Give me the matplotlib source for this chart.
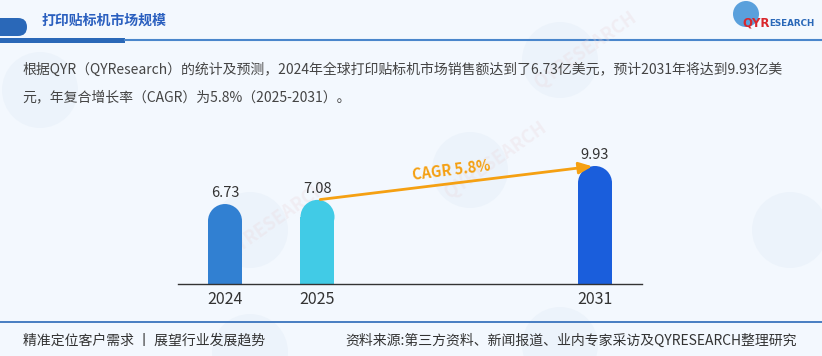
import matplotlib.pyplot as plt
from matplotlib.patches import Ellipse, Circle, FancyBboxPatch, Rectangle

plt.rcParams['font.family'] = ['Noto Sans CJK SC', 'DejaVu Sans']

# data
years = ['2024', '2025', '2031']
values = [6.73, 7.08, 9.93]
positions = [0, 1, 4]
colors = ['#3180d2', '#41cbe6', '#1a5edc']
cagr_label = 'CAGR 5.8%'
title = '打印贴标机市场规模'
desc_1 = '根据QYR（QYResearch）的统计及预测，2024年全球打印贴标机市场销售额达到了6.73亿美元，预计2031年将达到9.93亿美'
desc_2 = '元，年复合增长率（CAGR）为5.8%（2025-2031）。'
foot_left = '精准定位客户需求 丨 展望行业发展趋势'
foot_right = '资料来源:第三方资料、新闻报道、业内专家采访及QYRESEARCH整理研究'

W, H = 822, 356
bg = '#f3f8fe'
fig = plt.figure(figsize=(W / 100, H / 100), dpi=100, facecolor=bg)


def fx(x):
    return x / W


def fy(y):
    return 1 - y / H


# faint watermarks
wm = fig.add_axes([0, 0, 1, 1], zorder=0)
wm.set_xlim(0, W)
wm.set_ylim(H, 0)
wm.axis('off')
for cx, cy in [(40, 90), (250, 230), (470, 170), (560, 60), (790, 230), (250, 352), (560, 345)]:
    wm.add_patch(Circle((cx, cy), 38, color='#e2ecf7', alpha=0.4, lw=0))
for cx, cy in [(250, 230), (470, 170), (560, 60)]:
    wm.text(cx + 25, cy - 10, 'QYRESEARCH', rotation=35, fontsize=13, color='#ead6da',
            alpha=0.3, ha='center', va='center', fontweight='bold')

# header
wm.add_patch(FancyBboxPatch((-20, 18), 47, 18, boxstyle='round,pad=0,rounding_size=9',
                            color='#2a68b8', lw=0))
wm.add_patch(Rectangle((0, 37.5), 125, 5, color='#2a68b8', lw=0))
wm.plot([125, W], [40, 40], color='#4a86cc', lw=1.5)
wm.plot([0, W], [322, 322], color='#2a68b8', lw=1.2)
wm.add_patch(Circle((746, 14), 13, color='#5aa0dc', lw=0))
fig.text(fx(742), fy(23), 'QYR', color='#d9262c', fontsize=8.5, fontweight='bold',
         ha='left', va='center', family=['DejaVu Sans'])
fig.text(fx(769), fy(23.5), 'ESEARCH', color='#2a68b8', fontsize=6.3, fontweight='bold',
         ha='left', va='center', family=['DejaVu Sans'])

fig.text(fx(42), fy(21), title, color='#2a5fbf', fontsize=10, fontweight='bold',
         ha='left', va='center')
fig.text(fx(22), fy(70), desc_1, color='#444444', fontsize=10, ha='left', va='center')
fig.text(fx(22), fy(97), desc_2, color='#444444', fontsize=10, ha='left', va='center')
fig.text(fx(23), fy(341), foot_left, color='#333333', fontsize=10, ha='left', va='center')
fig.text(fx(345), fy(341), foot_right, color='#333333', fontsize=10, ha='left', va='center')

# chart
x0, x1 = 178, 642
base, top = 284, 141.4
ax = fig.add_axes([fx(x0), fy(base), (x1 - x0) / W, (base - top) / H], zorder=2)
ax.set_facecolor('none')
ax.set_xlim(-0.508, 4.508)
ax.set_ylim(0, 12)
for s in ['left', 'right', 'top']:
    ax.spines[s].set_visible(False)
ax.spines['bottom'].set_color('#333333')
ax.spines['bottom'].set_linewidth(1)
ax.set_yticks([])
ax.set_xticks(positions)
ax.set_xticklabels(years, fontsize=11.5, color='#333333')
ax.tick_params(axis='x', length=0, pad=5)

bw = 34 / 92.5
cap = 17 / 11.88
for p, v, c in zip(positions, values, colors):
    ax.bar(p, v - cap, width=bw, color=c, lw=0)
    ax.add_patch(Ellipse((p, v - cap), bw, 2 * cap, color=c, lw=0))
    ax.annotate(f'{v:.2f}', (p, v), xytext=(0, 3), textcoords='offset points',
                ha='center', va='bottom', fontsize=10.5, color='#333333')

ax.annotate('', xy=(positions[2], values[2]), xytext=(positions[1], values[1]),
            arrowprops=dict(arrowstyle='-|>,head_length=0.8,head_width=0.35',
                            color='#f5a012', lw=2))
ax.text(2.45, 9.6, cagr_label, rotation=7, color='#f5a012', fontsize=10.5,
        fontweight='bold', ha='center', va='center')

fig.savefig('out.png', dpi=100, facecolor=bg)
